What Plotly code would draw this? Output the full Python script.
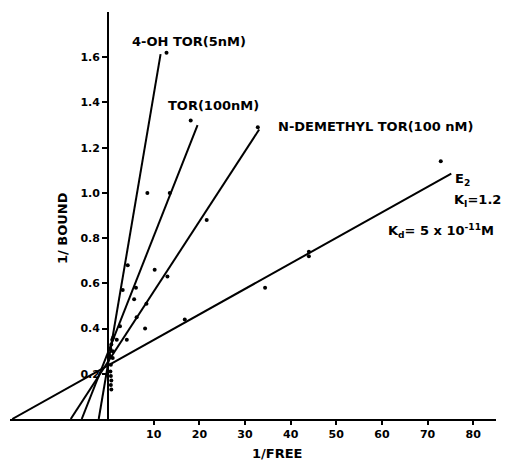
import plotly.graph_objects as go

# ---- data ----
# scatter points (1/free, 1/bound)
oh_tor_x = [12.8, 8.6, 4.3, 3.2, 0.9, 0.5, 0.3]
oh_tor_y = [1.62, 1.00, 0.68, 0.57, 0.35, 0.31, 0.28]

tor_x = [18.1, 13.5, 6.1, 5.7, 2.6, 1.1, 0.7]
tor_y = [1.32, 1.00, 0.58, 0.53, 0.41, 0.36, 0.33]

ndm_x = [32.8, 21.6, 13.0, 10.2, 8.4, 6.25, 8.1, 4.1, 1.9, 1.0]
ndm_y = [1.29, 0.88, 0.63, 0.66, 0.51, 0.45, 0.40, 0.35, 0.35, 0.30]

e2_x = [72.9, 44.0, 44.0, 34.4, 16.8, 1.0, 0.6, 0.5, 0.6, 0.7, 0.6, 0.7]
e2_y = [1.14, 0.74, 0.72, 0.58, 0.44, 0.27, 0.24, 0.21, 0.19, 0.17, 0.15, 0.13]

# fitted lines: intercept, slope, right end (1/free)
fit_names = ["4-OH TOR", "TOR", "N-DEMETHYL TOR", "E2"]
fit_intercept = [0.245, 0.296, 0.254, 0.237]
fit_slope = [0.119, 0.0512, 0.031, 0.01128]
fit_xmax = [11.5, 19.6, 33.1, 75.2]

y_ticks = [0.2, 0.4, 0.6, 0.8, 1.0, 1.2, 1.4, 1.6]
x_ticks = [10, 20, 30, 40, 50, 60, 70, 80]

X_RANGE = [-21.5, 85.0]
Y_RANGE = [0.0, 1.8]

FONT = "DejaVu Sans"
fig = go.Figure()

for name, b, m, xe in zip(fit_names, fit_intercept, fit_slope, fit_xmax):
    x0 = -b / m
    fig.add_trace(go.Scatter(x=[x0, xe], y=[0, b + m * xe], mode="lines",
                             line=dict(color="black", width=2), name=name,
                             showlegend=False, hoverinfo="skip"))

for nm, xs, ys in [("4-OH TOR", oh_tor_x, oh_tor_y), ("TOR", tor_x, tor_y),
                   ("N-DEMETHYL TOR", ndm_x, ndm_y), ("E2", e2_x, e2_y)]:
    fig.add_trace(go.Scatter(x=xs, y=ys, mode="markers", name=nm,
                             marker=dict(color="black", size=4),
                             showlegend=False))

tick_font = dict(family=FONT, size=11, color="black", weight="bold")
ann_font = dict(family=FONT, size=13, color="black", weight="bold")

fig.update_layout(
    width=520, height=472,
    margin=dict(l=2, r=32, t=4, b=61),
    paper_bgcolor="white", plot_bgcolor="white",
    xaxis=dict(range=X_RANGE, showgrid=False, zeroline=False,
               showline=True, linecolor="black", linewidth=2,
               ticks="outside", ticklen=4, tickwidth=1.5, tickcolor="black",
               tickvals=x_ticks, ticktext=[str(v) for v in x_ticks],
               tickfont=tick_font, domain=[0, 1]),
    yaxis=dict(range=Y_RANGE, showgrid=False, zeroline=False,
               anchor="free", position=(0 - X_RANGE[0]) / (X_RANGE[1] - X_RANGE[0]),
               showline=True, linecolor="black", linewidth=2,
               ticks="outside", ticklen=5, tickwidth=1.5, tickcolor="black",
               tickvals=y_ticks, ticktext=[f"{v:.1f}" for v in y_ticks],
               tickfont=tick_font),
)

anns = [
    ("4-OH TOR(5nM)", 17.7, 1.668, "center"),
    ("TOR(100nM)", 23.0, 1.385, "center"),
    ("N-DEMETHYL TOR(100 nM)", 58.5, 1.292, "center"),
    ("E<sub>2</sub>", 75.5, 1.06, "left"),
    ("K<sub>I</sub>=1.2", 75.3, 0.965, "left"),
    ("K<sub>d</sub>= 5 x 10<sup>-11</sup>M", 61.0, 0.83, "left"),
]
for t, x, y, xa in anns:
    fig.add_annotation(text=t, x=x, y=y, xref="x", yref="y", xanchor=xa,
                       yanchor="middle", showarrow=False, font=ann_font)

fig.add_annotation(text="1/ BOUND", x=-9.88, y=0.845, xref="x", yref="y",
                   textangle=-90, showarrow=False, font=ann_font)
fig.add_annotation(text="1/FREE", x=37.0, y=-0.108, xref="x", yref="paper",
                   showarrow=False, font=ann_font)

fig.write_html("out.html")
